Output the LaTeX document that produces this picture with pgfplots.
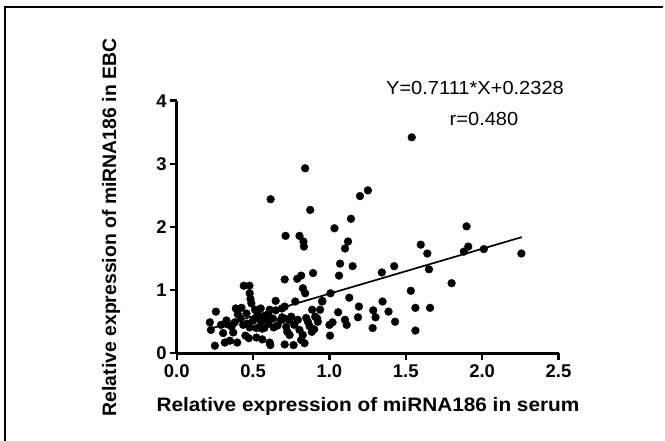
\documentclass[border=0pt]{standalone}
\usepackage{pgfplots}
\pgfplotsset{compat=1.18}
\usepackage{fontspec}
\setmainfont{Liberation Sans}
\begin{document}
\begin{tikzpicture}
\path[use as bounding box] (0,0) rectangle (665bp,441bp);
\draw[line width=2bp,black] (5bp,0) -- (5bp,434bp) -- (663bp,434bp);
\begin{axis}[
  at={(176.7bp,87.7bp)}, anchor=south west,
  scale only axis, width=381.8bp, height=252.6bp,
  xmin=0, xmax=2.5, ymin=0, ymax=4,
  axis lines*=left, axis line style={line width=2.6bp},
  xtick={0,0.5,1,1.5,2,2.5}, ytick={0,1,2,3,4},
  xticklabels={0.0,0.5,1.0,1.5,2.0,2.5},
  tick style={line width=2.4bp,black}, major tick length=6.5bp,
  tick align=outside, tick pos=left,
  clip=false,
  /pgf/number format/assume math mode=true,
  ticklabel style={font=\bfseries\fontsize{18.5}{18.5}\selectfont},
  xticklabel style={yshift=-1bp},
  yticklabel style={xshift=0bp},
]
\addplot[only marks, mark=*, mark size=3.9bp, black] table {
0.615 2.44
0.841 2.93
0.874 2.27
0.713 1.86
0.804 1.86
0.830 1.77
0.833 1.69
1.033 1.98
1.141 2.13
1.200 2.49
1.252 2.58
1.122 1.77
1.102 1.66
1.070 1.42
1.152 1.38
1.063 1.23
0.893 1.27
0.815 1.23
0.789 1.18
0.707 1.17
0.826 1.03
0.841 0.95
1.007 0.95
0.954 0.83
1.130 0.88
0.439 1.07
0.476 1.07
0.478 0.95
0.483 0.86
0.257 0.66
0.217 0.49
0.224 0.37
0.250 0.12
0.304 0.32
0.315 0.17
0.348 0.20
0.396 0.17
0.370 0.33
0.359 0.42
0.326 0.52
0.380 0.49
0.387 0.71
0.424 0.72
0.457 0.63
0.417 0.55
0.435 0.45
0.461 0.47
0.478 0.41
0.472 0.24
0.522 0.25
0.526 0.58
0.513 0.69
0.550 0.71
0.489 0.79
0.522 0.40
0.559 0.39
0.565 0.58
0.598 0.62
0.609 0.69
0.574 0.40
0.560 0.22
0.613 0.13
0.609 0.17
0.580 0.55
0.648 0.68
0.630 0.55
0.635 0.41
0.648 0.83
0.689 0.71
0.707 0.74
0.680 0.52
0.707 0.55
0.717 0.42
0.707 0.14
0.765 0.13
0.724 0.34
0.739 0.29
0.776 0.82
0.739 0.53
0.793 0.53
0.804 0.37
0.826 0.29
0.837 0.16
0.815 0.21
0.885 0.34
0.859 0.50
0.907 0.58
0.887 0.69
0.848 0.56
0.924 0.50
0.939 0.69
0.952 0.82
0.920 0.55
1.000 0.45
1.020 0.49
1.004 0.28
1.057 0.65
1.102 0.53
1.113 0.45
1.187 0.57
1.193 0.74
1.287 0.68
1.283 0.40
1.348 0.82
1.387 0.66
1.343 1.28
1.424 1.38
1.430 0.50
1.539 3.42
1.898 2.01
1.598 1.72
1.641 1.58
1.880 1.61
1.909 1.69
2.011 1.65
2.257 1.58
1.652 1.33
1.800 1.11
1.533 0.99
1.563 0.72
1.659 0.72
1.302 0.57
1.563 0.36
0.290 0.45
0.400 0.62
0.450 0.28
0.530 0.62
0.600 0.47
0.660 0.44
0.690 0.57
0.750 0.58
0.770 0.45
0.870 0.43
0.900 0.38
0.330 0.46
0.500 0.52
0.550 0.50
};
\addplot[black, line width=1.7bp] coordinates {(0.24,0.4035) (2.26,1.8399)};
\end{axis}
\node[font=\fontsize{19}{19}\selectfont, xscale=1.06] at (475bp,353bp) {Y=0.7111*X+0.2328};
\node[font=\fontsize{19}{19}\selectfont, xscale=1.06] at (484bp,322bp) {r=0.480};
\node[font=\bfseries\fontsize{19.5}{19.5}\selectfont, xscale=1.07] at (368bp,35bp) {Relative expression of miRNA186 in serum};
\node[font=\bfseries\fontsize{19.5}{19.5}\selectfont, rotate=90] at (111bp,213.5bp) {Relative expression of miRNA186 in EBC};
\end{tikzpicture}
\end{document}
